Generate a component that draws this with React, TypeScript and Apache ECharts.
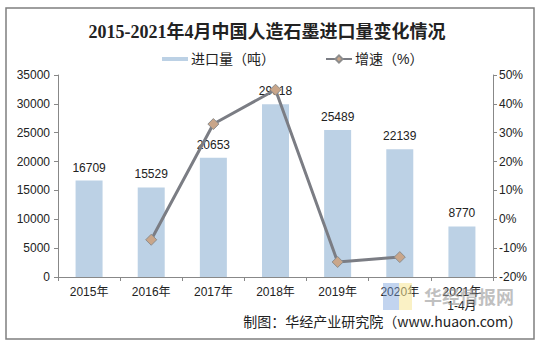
import React, { useEffect, useRef } from "react";
import * as echarts from "echarts";

const categories = ["2015年", "2016年", "2017年", "2018年", "2019年", "2020年", "2021年\n1-4月"];
const importVolume = [16709, 15529, 20653, 29918, 25489, 22139, 8770];
const growthRate: (number | null)[] = [null, -7.1, 33.0, 44.9, -14.8, -13.1, null];
const leftTicks = { min: 0, max: 35000, interval: 5000 };
const rightTicks = { min: -20, max: 50, interval: 10 };

const TEXT_FONT = "Arial, 'Liberation Sans', 'Noto Sans CJK SC', sans-serif";

export default function App() {
  const ref = useRef<HTMLDivElement>(null);
  useEffect(() => {
    if (!ref.current) return;
    const chart = echarts.init(ref.current, undefined, { renderer: "svg" });
    chart.setOption({
      animation: false,
      backgroundColor: "#ffffff",
      title: {
        text: "2015-2021年4月中国人造石墨进口量变化情况",
        left: 262,
        textAlign: "center",
        top: 18,
        textStyle: {
          fontFamily: "'Liberation Serif', 'Noto Sans CJK SC', serif",
          fontWeight: "bold",
          fontSize: 18,
          color: "#222",
        },
      },
      legend: {
        top: 47,
        left: 157,
        itemGap: 50,
        itemWidth: 26,
        itemHeight: 9,
        textStyle: { fontFamily: TEXT_FONT, fontSize: 14, color: "#222", padding: [0, 0, 0, -2] },
        data: [
          { name: "进口量（吨）", icon: "path://M0,0 L26,0 L26,4 L0,4 Z" },
          { name: "增速（%）" },
        ],
      },
      grid: { left: 58, right: 47, top: 75, bottom: 70 },
      xAxis: {
        type: "category",
        data: categories,
        axisLine: { lineStyle: { color: "#888", width: 1 } },
        axisTick: { show: true, alignWithLabel: false, lineStyle: { color: "#888" }, length: 4 },
        axisLabel: { fontFamily: TEXT_FONT, fontSize: 12, color: "#222", margin: 8, lineHeight: 14 },
      },
      yAxis: [
        {
          type: "value",
          ...leftTicks,
          axisLine: { show: true, lineStyle: { color: "#888" } },
          axisTick: { show: true, length: 4, lineStyle: { color: "#888" } },
          splitLine: { show: false },
          axisLabel: {
            fontFamily: TEXT_FONT,
            fontSize: 12,
            color: "#222",
            margin: 8,
            formatter: (v: number) => String(v),
          },
        },
        {
          type: "value",
          ...rightTicks,
          axisLine: { show: true, lineStyle: { color: "#888" } },
          axisTick: { show: true, length: 4, lineStyle: { color: "#888" } },
          splitLine: { show: false },
          axisLabel: { fontFamily: TEXT_FONT, fontSize: 12, color: "#222", margin: 6, formatter: "{value}%" },
        },
      ],
      series: [
        {
          name: "进口量（吨）",
          type: "bar",
          data: importVolume,
          barWidth: 27,
          itemStyle: { color: "#bcd1e5" },
          label: {
            show: true,
            position: "top",
            distance: 7,
            fontFamily: TEXT_FONT,
            fontSize: 12,
            color: "#222",
          },
          z: 1,
        },
        {
          name: "增速（%）",
          type: "line",
          yAxisIndex: 1,
          data: growthRate,
          connectNulls: false,
          symbol: "diamond",
          symbolSize: 11,
          lineStyle: { color: "#7b7d84", width: 3 },
          itemStyle: { color: "#c9a68a", borderColor: "#8d8d8d", borderWidth: 1 },
          z: 3,
        },
      ],
      graphic: [
        {
          type: "rect",
          shape: { x: 6, y: 8, width: 528, height: 331 },
          style: { fill: "none", stroke: "#7f7f7f", lineWidth: 1.5 },
          silent: true,
          z: 0,
        },
        {
          type: "rect",
          shape: { x: 383, y: 283, width: 16, height: 27 },
          style: { fill: "rgba(120,160,220,0.45)" },
          silent: true,
          z: 5,
        },
        {
          type: "rect",
          shape: { x: 399, y: 283, width: 13, height: 27 },
          style: { fill: "rgba(245,230,150,0.55)" },
          silent: true,
          z: 5,
        },
        {
          type: "text",
          x: 424,
          y: 287,
          style: {
            text: "华经情报网",
            fontFamily: "'Noto Sans CJK SC', sans-serif",
            fontWeight: "bold",
            fontSize: 18,
            fill: "rgba(150,150,150,0.6)",
          },
          silent: true,
          z: 5,
        },
        {
          type: "text",
          right: 18,
          top: 314,
          style: {
            text: "制图：华经产业研究院（www.huaon.com）",
            fontFamily: "'Noto Sans CJK SC', sans-serif",
            fontSize: 14,
            fill: "#222",
          },
          z: 6,
        },
      ],
    });
    return () => chart.dispose();
  }, []);
  return <div ref={ref} style={{ width: 540, height: 347, position: "absolute", left: 0, top: 0 }} />;
}
